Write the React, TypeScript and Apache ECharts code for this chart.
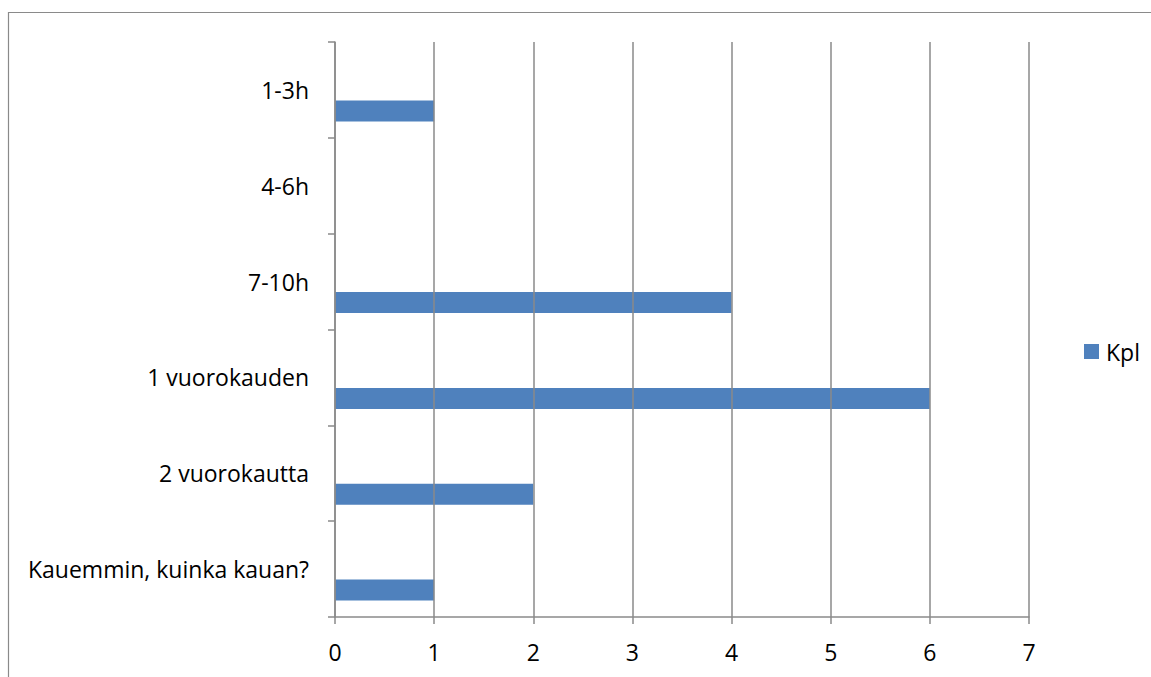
import React, { useEffect, useRef } from "react";
import * as echarts from "echarts";

// Response categories, top to bottom
const categories: string[] = [
  "1-3h",
  "4-6h",
  "7-10h",
  "1 vuorokauden",
  "2 vuorokautta",
  "Kauemmin, kuinka kauan?",
];

// Number of answers per category
const kplValues: number[] = [1, 0, 4, 6, 2, 1];

// Value axis ticks
const xTicks = { min: 0, max: 7, interval: 1 };

const FONT = "Open Sans";
const FONT_SIZE = 23;
const GRAY = "#8a8a8a";
const BLUE = "#4F81BD";

export default function App() {
  const ref = useRef<HTMLDivElement>(null);

  useEffect(() => {
    if (!ref.current) return;
    const chart = echarts.init(ref.current, undefined, { renderer: "svg" });
    chart.setOption({
      animation: false,
      backgroundColor: "#ffffff",
      textStyle: { fontFamily: FONT, color: "#000" },
      graphic: [
        {
          type: "rect",
          shape: { x: 8.5, y: 12.5, width: 1300, height: 900 },
          style: { fill: "none", stroke: GRAY, lineWidth: 1.2 },
          silent: true,
        },
      ],
      legend: {
        data: ["Kpl"],
        left: 1079,
        top: 335,
        icon: "rect",
        itemWidth: 15,
        itemHeight: 15,
        textStyle: {
          fontFamily: FONT,
          fontSize: FONT_SIZE,
          color: "#000",
          padding: [0, 0, 0, 2],
        },
      },
      grid: { left: 335, right: 122, top: 42, bottom: 60, containLabel: false },
      xAxis: {
        type: "value",
        min: xTicks.min,
        max: xTicks.max,
        interval: xTicks.interval,
        z: 3,
        axisLine: { show: true, lineStyle: { color: GRAY, width: 1.5 } },
        axisTick: { show: true, length: 7, lineStyle: { color: GRAY, width: 1.5 } },
        splitLine: { show: true, lineStyle: { color: GRAY, width: 1.5 } },
        axisLabel: { fontFamily: FONT, fontSize: FONT_SIZE, color: "#000", margin: 23 },
      },
      yAxis: {
        type: "category",
        data: categories,
        inverse: true,
        z: 3,
        axisLine: { show: true, lineStyle: { color: GRAY, width: 1.5 } },
        axisTick: { show: true, length: 7, lineStyle: { color: GRAY, width: 1.5 } },
        axisLabel: { fontFamily: FONT, fontSize: FONT_SIZE, color: "#000", margin: 26 },
        splitLine: { show: false },
      },
      series: [
        {
          // empty companion series that keeps the Kpl bars in the lower half of each band
          name: "spacer",
          type: "bar",
          data: categories.map(() => "-"),
          barWidth: 21,
          barGap: "100%",
          silent: true,
        },
        {
          name: "Kpl",
          type: "bar",
          data: kplValues,
          barWidth: 21,
          barGap: "100%",
          itemStyle: { color: BLUE },
        },
      ],
    });
    return () => chart.dispose();
  }, []);

  return (
    <div
      ref={ref}
      style={{ position: "absolute", left: 0, top: 0, width: 1151, height: 677 }}
    />
  );
}
